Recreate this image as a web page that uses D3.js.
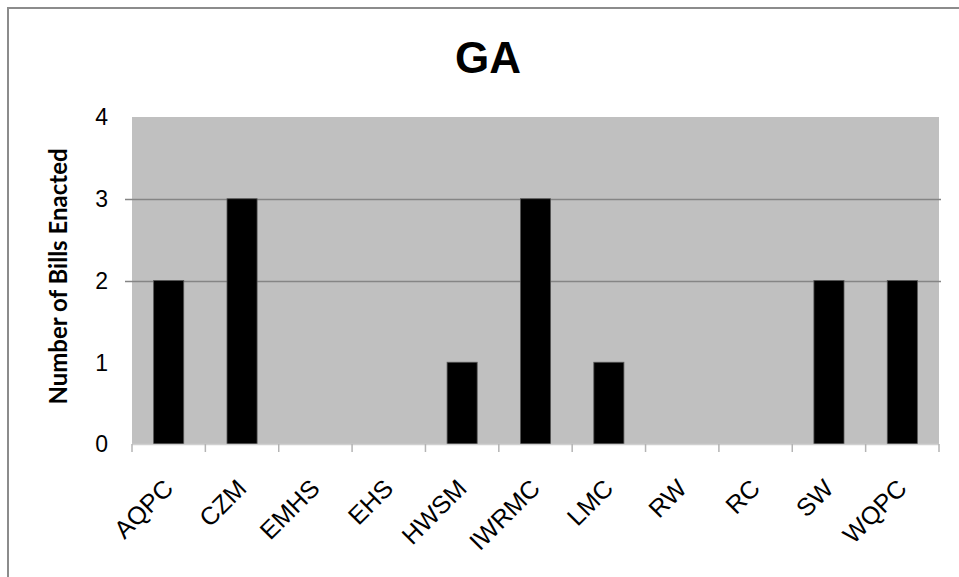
<!DOCTYPE html>
<html>
<head>
<meta charset="utf-8">
<script src="https://d3js.org/d3.v7.min.js"></script>
<style>
  html, body { margin: 0; padding: 0; background: #fff; }
  svg { display: block; }
</style>
</head>
<body>
<svg id="chart" width="959" height="577"></svg>
<script>
const title = "GA";
const yAxisTitle = "Number of Bills Enacted";
const categories = ["AQPC", "CZM", "EMHS", "EHS", "HWSM", "IWRMC", "LMC", "RW", "RC", "SW", "WQPC"];
const values = [2, 3, 0, 0, 1, 3, 1, 0, 0, 2, 2];
const yTicks = [0, 1, 2, 3, 4];
const gridValues = [2, 3];

const svg = d3.select("#chart");
const W = 959, H = 577;
const plot = { left: 132, right: 939, top: 117, bottom: 444 };

// outer chart border (cropped on the right and bottom)
svg.append("rect")
  .attr("x", 8).attr("y", 8)
  .attr("width", W + 20).attr("height", H + 20)
  .attr("fill", "#fff")
  .attr("stroke", "#8c8c8c")
  .attr("stroke-width", 2);

const x = d3.scaleBand()
  .domain(categories)
  .range([plot.left, plot.right])
  .paddingInner(0.59)
  .paddingOuter(0.295);

const y = d3.scaleLinear()
  .domain([0, 4])
  .range([plot.bottom, plot.top]);

// plot area
svg.append("rect")
  .attr("x", plot.left).attr("y", plot.top)
  .attr("width", plot.right - plot.left)
  .attr("height", plot.bottom - plot.top)
  .attr("fill", "#c0c0c0");

// gridlines
svg.append("g").selectAll("line")
  .data(gridValues)
  .join("line")
  .attr("x1", plot.left - 7).attr("x2", plot.right + 2)
  .attr("y1", d => Math.round(y(d)) + 0.5).attr("y2", d => Math.round(y(d)) + 0.5)
  .attr("stroke", "#858585")
  .attr("stroke-width", 1.5);

// bars
svg.append("g").selectAll("rect")
  .data(categories.map((c, i) => ({ c, v: values[i] })).filter(d => d.v > 0))
  .join("rect")
  .attr("x", d => x(d.c))
  .attr("y", d => y(d.v))
  .attr("width", x.bandwidth())
  .attr("height", d => y(0) - y(d.v))
  .attr("fill", "#000")
  .attr("stroke", "#555")
  .attr("stroke-width", 0.8);

// x axis line and ticks
const step = x.step();
const tickPositions = d3.range(categories.length + 1).map(i => plot.left + i * step);
svg.append("line")
  .attr("x1", plot.left).attr("x2", plot.right)
  .attr("y1", plot.bottom + 0.5).attr("y2", plot.bottom + 0.5)
  .attr("stroke", "#d0d0d0").attr("stroke-width", 1.5);
svg.append("g").selectAll("line")
  .data(tickPositions)
  .join("line")
  .attr("x1", d => d).attr("x2", d => d)
  .attr("y1", plot.bottom).attr("y2", plot.bottom + 8)
  .attr("stroke", "#b4b4b4").attr("stroke-width", 1.5);

// x labels
svg.append("g").selectAll("text")
  .data(categories)
  .join("text")
  .attr("transform", d => {
    const cx = x(d) + x.bandwidth() / 2 + 6;
    return `translate(${cx},490) rotate(-45)`;
  })
  .attr("text-anchor", "end")
  .attr("font-family", "'Liberation Sans', Arial, sans-serif")
  .attr("font-size", 25)
  .attr("fill", "#000")
  .text(d => d);

// y tick labels
svg.append("g").selectAll("text")
  .data(yTicks)
  .join("text")
  .attr("x", 108)
  .attr("y", d => y(d))
  .attr("dy", "0.36em")
  .attr("text-anchor", "end")
  .attr("font-family", "'Liberation Sans', Arial, sans-serif")
  .attr("font-size", 23)
  .attr("fill", "#000")
  .text(d => d);

// y axis title
svg.append("text")
  .attr("transform", `translate(67,${(150 + 403) / 2}) rotate(-90)`)
  .attr("text-anchor", "middle")
  .attr("font-family", "Lato, 'Open Sans', sans-serif")
  .attr("font-weight", "bold")
  .attr("font-size", 24)
  .attr("fill", "#000")
  .text(yAxisTitle);

// title
svg.append("text")
  .attr("x", 488).attr("y", 73)
  .attr("text-anchor", "middle")
  .attr("font-family", "'Liberation Sans', Arial, sans-serif")
  .attr("font-weight", "bold")
  .attr("font-size", 44)
  .attr("fill", "#000")
  .text(title);
</script>
</body>
</html>
